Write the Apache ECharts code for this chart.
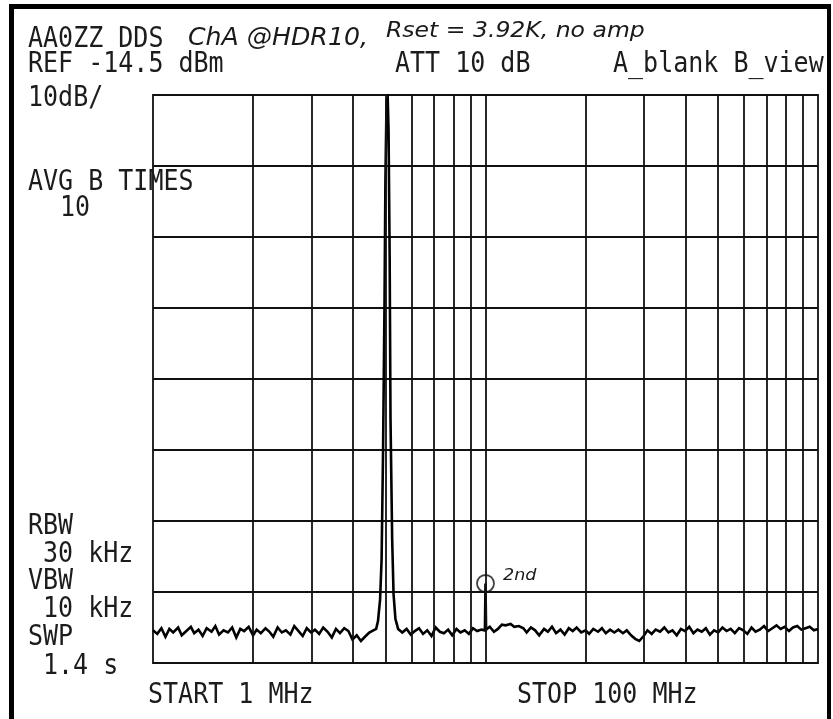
<!DOCTYPE html>
<html><head><meta charset="utf-8">
<script src="https://cdn.jsdelivr.net/npm/echarts@6/dist/echarts.min.js"></script>
<style>html,body{margin:0;padding:0;background:#fff}#c{width:833px;height:719px}</style>
</head><body><div id="c"></div><script>
// Vertical grid lines of the log frequency axis (MHz)
var gridFreqsMHz = [2,3,4,5,6,7,8,9,10,20,30,40,50,60,70,80,90];
// Frequency span and amplitude scale
var startMHz = 1, stopMHz = 100;
var refLevelDbm = -14.5, bottomDbm = -94.5, dbPerDiv = 10;

// Noise floor: [MHz, dBm]
var noiseLow = [
 [1.00,-89.9],[1.03,-90.4],[1.06,-89.6],[1.09,-90.8],[1.12,-89.7],[1.15,-90.2],[1.19,-89.5],[1.22,-90.6],[1.26,-90.0],[1.30,-89.4],
 [1.33,-90.3],[1.37,-89.8],[1.41,-90.7],[1.45,-89.6],[1.50,-90.1],[1.54,-89.3],[1.58,-90.5],[1.63,-89.9],[1.68,-90.2],[1.73,-89.5],
 [1.78,-90.9],[1.83,-89.7],[1.88,-90.0],[1.94,-89.4],[2.00,-90.6],[2.05,-89.8],[2.11,-90.3],[2.18,-89.6],[2.24,-90.1],[2.30,-90.8],
 [2.37,-89.5],[2.44,-90.2],[2.51,-89.9],[2.59,-90.5],[2.66,-89.3],[2.74,-90.0],[2.82,-90.7],[2.90,-89.6],[2.99,-90.2],[3.07,-89.8],
 [3.16,-90.4],[3.25,-89.5],[3.35,-90.1],[3.45,-90.9],[3.55,-89.7],[3.65,-90.3],[3.76,-89.6],[3.87,-90.0],[3.98,-91.2],[4.10,-90.6],
 [4.22,-91.4],[4.34,-90.8],[4.47,-90.2],[4.60,-89.9]
];
// Carrier (fundamental) near 5 MHz
var carrier = [
 [4.69,-89.7],[4.75,-88.6],[4.82,-85.5],[4.87,-79.9],[4.92,-64.4],[4.97,-43.3],[5.00,-26.5],[5.04,-15.2],
 [5.08,-14.9],[5.11,-19.4],[5.15,-37.7],[5.18,-60.2],[5.24,-77.1],[5.29,-84.8],[5.36,-88.3],[5.46,-89.7]
];
var noiseMid = [
 [5.62,-90.2],[5.79,-89.7],[5.96,-90.5],[6.13,-90.0],[6.31,-89.6],[6.49,-90.4],[6.68,-89.9],[6.88,-90.7],[7.08,-89.5],[7.29,-90.1],
 [7.50,-90.3],[7.72,-89.8],[7.94,-90.6],[8.18,-89.7],[8.41,-90.2],[8.66,-89.9],[8.91,-90.4],[9.17,-89.6],[9.44,-90.0],[9.72,-89.8]
];
// 2nd harmonic spur
var harmonic = [[9.96,-89.9],[10.0,-83.3],[10.04,-89.8]];
var harmonicMarker = [10.0,-83.3];
var noiseHigh = [
 [10.3,-89.4],[10.6,-90.1],[10.9,-89.7],[11.2,-89.1],[11.5,-89.2],[11.9,-89.0],[12.2,-89.4],[12.6,-89.3],[13.0,-89.6],[13.3,-90.2],
 [13.7,-89.5],[14.1,-89.9],[14.5,-90.6],[15.0,-89.7],[15.4,-90.1],[15.85,-89.4],[16.3,-90.3],[16.8,-89.8],[17.3,-90.5],[17.8,-89.6],
 [18.3,-90.0],[18.8,-89.5],[19.4,-90.2],[20.0,-89.9],[20.5,-90.4],[21.1,-89.7],[21.8,-90.1],[22.4,-89.6],[23.0,-90.3],[23.7,-89.8],
 [24.4,-90.2],[25.1,-89.8],[25.9,-90.3],[26.6,-89.9],[27.4,-90.6],[28.2,-91.1],[29.0,-91.4],[29.9,-90.7],[30.7,-89.9],[31.6,-90.4],
 [32.5,-89.8],[33.5,-90.1],[34.5,-89.5],[35.5,-90.2],[36.5,-89.9],[37.6,-90.6],[38.7,-89.7],[39.8,-90.0],[41.0,-89.4],[42.2,-90.3],
 [43.4,-89.8],[44.7,-90.1],[46.0,-89.6],[47.3,-90.5],[48.7,-89.9],[50.1,-90.2],[51.6,-89.5],[53.1,-90.0],[54.6,-89.7],[56.2,-90.3],
 [57.9,-89.6],[59.6,-89.9],[61.3,-90.4],[63.1,-89.5],[64.9,-90.1],[66.8,-89.8],[68.8,-89.3],[70.8,-90.0],[72.9,-89.6],[75.0,-89.2],
 [77.2,-89.7],[79.4,-89.4],[81.8,-90.0],[84.1,-89.5],[86.6,-89.3],[89.1,-89.8],[91.7,-89.6],[94.4,-89.4],[97.2,-89.9],[100,-89.7]
];

// Text annotations
var headerLine1 = 'AA0ZZ DDS';
var noteLine1a = 'ChA @HDR10,';
var noteLine1b = 'Rset = 3.92K, no amp';
var refText = 'REF -14.5 dBm', attText = 'ATT 10 dB', traceText = 'A_blank B_view';
var scaleText = '10dB/';
var avgText = 'AVG B TIMES', avgCount = '10';
var bwLabels = ['RBW', '30 kHz', 'VBW', '10 kHz', 'SWP', '1.4 s'];
var startText = 'START 1 MHz', stopText = 'STOP 100 MHz';
var harmonicNote = '2nd';

var trace = noiseLow.concat(carrier, noiseMid, harmonic, noiseHigh).sort(function(a,b){return a[0]-b[0];});

var chart = echarts.init(document.getElementById('c'), null, {renderer:'canvas'});
var MONO = '"DejaVu Sans Mono", monospace';
function t(str, x, yMid, o) {
  o = o || {};
  return {
    type:'text', x:x, y:yMid, scaleX:o.sx||1, scaleY:o.sy||1.1, silent:true, z:10,
    style:{text:str, x:0, y:0, fill:o.fill||'#1c1c1c',
      fontSize:o.size||25, fontFamily:o.family||MONO, fontStyle:o.style||'normal', fontWeight:o.weight||'normal',
      align:'left', verticalAlign:'middle', textAlign:'left', textVerticalAlign:'middle'}
  };
}
function hand(str, x, yMid, size, sx) {
  return t(str, x, yMid, {size:size, family:'"DejaVu Sans", sans-serif', style:'italic', weight:'normal', sy:1.0, sx:sx, fill:'#1a1a1a'});
}
var graphics = [
  {type:'rect', shape:{x:9, y:4, width:822, height:5}, style:{fill:'#000'}, silent:true},
  {type:'rect', shape:{x:9, y:4, width:5, height:715}, style:{fill:'#000'}, silent:true},
  {type:'rect', shape:{x:827, y:4, width:4, height:715}, style:{fill:'#000'}, silent:true},
  t(headerLine1, 28, 39.5),
  hand(noteLine1a, 188, 39, 24, 1.05),
  hand(noteLine1b, 386, 32, 21, 1.12),
  t(refText, 28, 65), t(attText, 395, 65), t(traceText, 613, 65),
  t(scaleText, 28, 99),
  t(avgText, 28, 182.5), t(avgCount, 60, 209),
  t(bwLabels[0], 28, 527), t(bwLabels[1], 43, 555), t(bwLabels[2], 28, 582),
  t(bwLabels[3], 43, 610), t(bwLabels[4], 28, 638), t(bwLabels[5], 43, 667),
  t(startText, 148, 696), t(stopText, 517, 696),
  hand(harmonicNote, 503, 576, 16, 1.1)
];

chart.setOption({
  animation:false,
  backgroundColor:'#fff',
  grid:{left:153, top:95, width:665, height:568, show:true, borderColor:'#111', borderWidth:1.8, backgroundColor:'transparent'},
  xAxis:{type:'log', logBase:10, min:startMHz, max:stopMHz,
    axisLine:{show:false}, axisTick:{show:false}, axisLabel:{show:false}, splitLine:{show:false},
    minorTick:{show:false}, minorSplitLine:{show:false}},
  yAxis:{type:'value', min:bottomDbm, max:refLevelDbm, interval:dbPerDiv,
    axisLine:{show:false}, axisTick:{show:false}, axisLabel:{show:false},
    splitLine:{show:true, lineStyle:{color:'#111', width:1.8}}},
  series:[
    {type:'line', data:trace, symbol:'none', showSymbol:false, silent:true, z:3,
     lineStyle:{color:'#000', width:2.6, join:'miter'}, emphasis:{disabled:true},
     markLine:{silent:true, symbol:['none','none'], label:{show:false}, animation:false,
       lineStyle:{color:'#111', width:1.8, type:'solid'}, emphasis:{disabled:true},
       data:gridFreqsMHz.map(function(f){return {xAxis:f};})}},
    {type:'scatter', data:[harmonicMarker], symbol:'circle', symbolSize:17, silent:true, z:4,
     itemStyle:{color:'rgba(0,0,0,0)', borderColor:'#111', borderWidth:1.8}}
  ],
  graphic:graphics
});
</script></body></html>
